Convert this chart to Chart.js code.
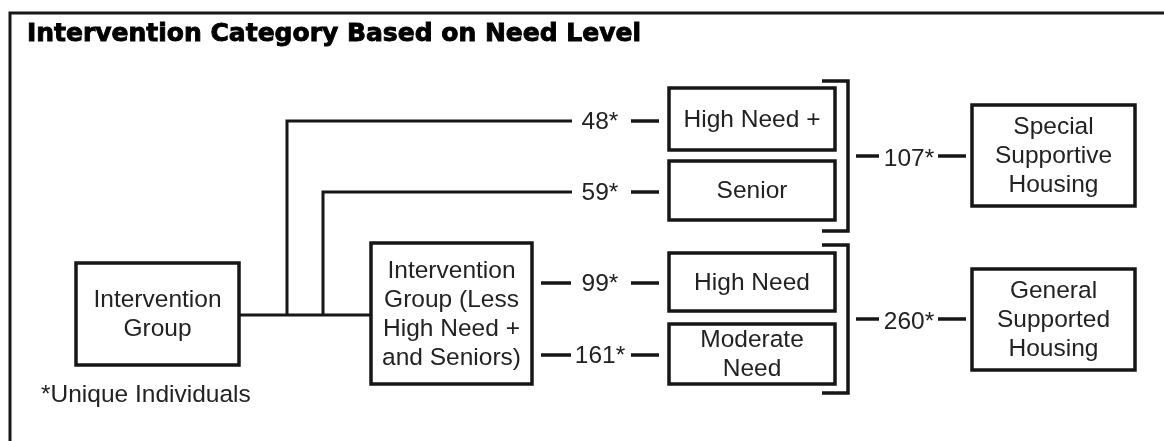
<!DOCTYPE html>
<html>
<head>
<meta charset="utf-8">
<script src="https://cdn.jsdelivr.net/npm/chart.js@4.4.1/dist/chart.umd.min.js"></script>
<style>
  html, body { margin: 0; padding: 0; background: #fff; }
  canvas { display: block; }
</style>
</head>
<body>
<canvas id="flow" width="1164" height="441"></canvas>
<script>
// data
const chartTitle = "Intervention Category Based on Need Level";
const sourceLabel = ["Intervention", "Group"];
const remainderLabel = ["Intervention", "Group (Less", "High Need +", "and Seniors)"];
const needLevels = [["High Need +"], ["Senior"], ["High Need"], ["Moderate", "Need"]];
const needCounts = [48, 59, 99, 161];
const housingTypes = [["Special", "Supportive", "Housing"], ["General", "Supported", "Housing"]];
const housingCounts = [107, 260];
const footnote = "*Unique Individuals";

// layout (diagram positions, in canvas units)
const layout = {
  title: { x: 27, y: 34, width: 614 },
  source: { x0: 76, x1: 239, y0: 263, y1: 365 },
  footnote: { x: 41, y: 395 },
  remainder: { x0: 371, x1: 532, y0: 243, y1: 384 },
  trunkY: 315,
  branchX: [287, 323],
  needLineY: [121, 192, 283, 355],
  needBox: { x0: 669, x1: 835, ys: [[88, 150], [161, 220], [253, 311], [324, 384]] },
  countX: 600,
  bracket: { x0: 822, x1: 848, ys: [[81, 231], [245, 393]] },
  housingBox: { x0: 972, x1: 1135, ys: [[105, 206], [269, 370]] },
  housingCountX: 909,
  lineHeight: 29
};

const ink = "#161616";
const textInk = "#222";
const bodyFont = "24.5px 'Liberation Sans', Arial, sans-serif";

function seg(points, width) {
  return {
    data: points.map(p => ({ x: p[0], y: p[1] })),
    showLine: true,
    borderColor: ink,
    borderWidth: width || 3,
    pointRadius: 0,
    pointHoverRadius: 0,
    borderCapStyle: "butt",
    borderJoinStyle: "miter",
    tension: 0,
    fill: false
  };
}

const connectors = [];
// trunk from source box to remainder box
connectors.push(seg([[layout.source.x1, layout.trunkY], [layout.remainder.x0, layout.trunkY]]));
// branches peeled off for High Need + and Senior
layout.branchX.forEach((bx, i) => {
  const y = layout.needLineY[i];
  connectors.push(seg([[bx, layout.trunkY], [bx, y], [572, y]]));
});
// short dashes from remainder box
[2, 3].forEach(i => {
  const y = layout.needLineY[i];
  connectors.push(seg([[541, y], [571, y]], 3.5));
});
// dashes into need boxes
needCounts.forEach((c, i) => {
  const y = layout.needLineY[i];
  connectors.push(seg([[631, y], [659, y]], 3.5));
});
// brackets and housing dashes
layout.bracket.ys.forEach((r, i) => {
  const b = layout.bracket;
  connectors.push(seg([[b.x0, r[0]], [b.x1, r[0]], [b.x1, r[1]], [b.x0, r[1]]], 3.5));
  const my = (r[0] + r[1]) / 2;
  connectors.push(seg([[856, my], [879, my]], 3.5));
  connectors.push(seg([[938, my], [966, my]], 3.5));
});

const diagramPlugin = {
  id: "diagram",
  beforeDraw(chart) {
    const ctx = chart.ctx;
    ctx.save();
    ctx.fillStyle = "#fff";
    ctx.fillRect(0, 0, chart.width, chart.height);
    ctx.restore();
  },
  afterDatasetsDraw(chart) {
    const ctx = chart.ctx;
    const sx = v => chart.scales.x.getPixelForValue(v);
    const sy = v => chart.scales.y.getPixelForValue(v);

    ctx.save();
    // outer frame (top and left edges)
    ctx.strokeStyle = ink;
    ctx.lineWidth = 3;
    ctx.beginPath();
    ctx.moveTo(sx(10), sy(441));
    ctx.lineTo(sx(10), sy(13));
    ctx.lineTo(sx(1164), sy(13));
    ctx.stroke();

    // title, stretched to its width, with a light stroke for weight
    ctx.fillStyle = "#000";
    ctx.strokeStyle = "#000";
    ctx.lineWidth = 0.9;
    ctx.font = "bold 25px 'DejaVu Sans', sans-serif";
    ctx.textBaseline = "middle";
    ctx.textAlign = "left";
    const tw = ctx.measureText(chartTitle).width;
    ctx.save();
    ctx.translate(sx(layout.title.x), sy(layout.title.y));
    ctx.scale(layout.title.width / tw, 1);
    ctx.fillText(chartTitle, 0, 0);
    ctx.strokeText(chartTitle, 0, 0);
    ctx.restore();

    function box(x0, x1, y0, y1, lines) {
      ctx.lineWidth = 3.5;
      ctx.strokeStyle = ink;
      ctx.fillStyle = "#fff";
      ctx.fillRect(sx(x0), sy(y0), sx(x1) - sx(x0), sy(y1) - sy(y0));
      ctx.strokeRect(sx(x0), sy(y0), sx(x1) - sx(x0), sy(y1) - sy(y0));
      ctx.fillStyle = textInk;
      ctx.font = bodyFont;
      ctx.textAlign = "center";
      ctx.textBaseline = "middle";
      const cx = (x0 + x1) / 2;
      const cy = (y0 + y1) / 2;
      const start = cy - (lines.length - 1) * layout.lineHeight / 2;
      lines.forEach((t, k) => ctx.fillText(t, sx(cx), sy(start + k * layout.lineHeight) + 1));
    }

    const s = layout.source;
    box(s.x0, s.x1, s.y0, s.y1, sourceLabel);
    const r = layout.remainder;
    box(r.x0, r.x1, r.y0, r.y1, remainderLabel);
    needLevels.forEach((lab, i) => {
      const nb = layout.needBox;
      box(nb.x0, nb.x1, nb.ys[i][0], nb.ys[i][1], lab);
    });
    housingTypes.forEach((lab, i) => {
      const hb = layout.housingBox;
      box(hb.x0, hb.x1, hb.ys[i][0], hb.ys[i][1], lab);
    });

    // counts
    ctx.fillStyle = textInk;
    ctx.font = bodyFont;
    ctx.textAlign = "center";
    ctx.textBaseline = "middle";
    needCounts.forEach((c, i) => {
      ctx.fillText(c + "*", sx(layout.countX), sy(layout.needLineY[i]) + 1);
    });
    housingCounts.forEach((c, i) => {
      const rr = layout.bracket.ys[i];
      ctx.fillText(c + "*", sx(layout.housingCountX), sy((rr[0] + rr[1]) / 2) + 3);
    });

    // footnote
    ctx.textAlign = "left";
    ctx.fillText(footnote, sx(layout.footnote.x), sy(layout.footnote.y));
    ctx.restore();
  }
};

new Chart(document.getElementById("flow"), {
  type: "scatter",
  data: { datasets: connectors },
  options: {
    responsive: false,
    animation: false,
    events: [],
    layout: { padding: 0 },
    plugins: { legend: { display: false }, tooltip: { enabled: false }, title: { display: false } },
    scales: {
      x: { type: "linear", min: 0, max: 1164, display: false },
      y: { type: "linear", min: 0, max: 441, reverse: true, display: false }
    }
  },
  plugins: [diagramPlugin]
});
</script>
</body>
</html>
